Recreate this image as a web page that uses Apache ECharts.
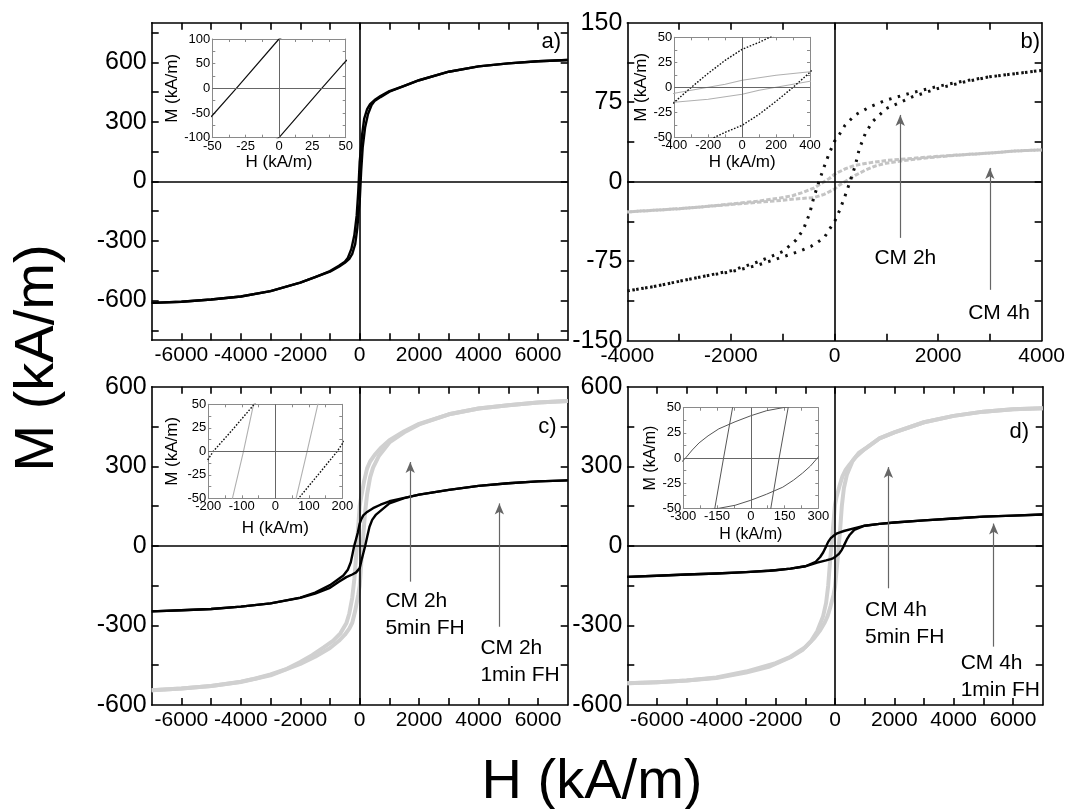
<!DOCTYPE html>
<html>
<head>
<meta charset="utf-8">
<title>M(H) loops</title>
<script src="https://cdn.jsdelivr.net/npm/echarts@6/dist/echarts.min.js"></script>
<style>
html, body { margin: 0; padding: 0; background: #fff; }
#chart { width: 1068px; height: 809px; }
</style>
</head>
<body>
<div id="chart"></div>
<script>
// ---- data: [H (kA/m), M (kA/m)] ----
// a) single sample
var aDesc = [[7000,612],[6000,606],[5000,595],[4000,580],[3000,553],[2000,510],[1500,482],[1000,455],[700,430],[500,410],[350,390],[250,365],[150,315],[80,235],[40,160],[0,100],[-32,0],[-50,-55],[-100,-170],[-180,-270],[-280,-340],[-400,-385],[-500,-405],[-700,-425],[-1000,-452],[-1500,-482],[-2000,-510],[-3000,-553],[-4000,-580],[-5000,-595],[-6000,-606],[-7000,-612]];
var aAsc = [[-7000,-612],[-6000,-606],[-5000,-595],[-4000,-580],[-3000,-553],[-2000,-510],[-1500,-482],[-1000,-455],[-700,-430],[-500,-410],[-350,-390],[-250,-365],[-150,-315],[-80,-235],[-40,-160],[0,-100],[32,0],[50,55],[100,170],[180,270],[280,340],[400,385],[500,405],[700,425],[1000,452],[1500,482],[2000,510],[3000,553],[4000,580],[5000,595],[6000,606],[7000,612]];

// b) CM 2h (black) and CM 4h (grey)
var b2hDesc = [[4000,105],[3500,102],[3000,99],[2500,95],[2000,90],[1500,84],[1000,77],[700,71],[400,63],[200,53],[100,45],[0,38],[-100,27],[-200,14],[-300,0],[-400,-15],[-480,-30],[-600,-45],[-740,-55],[-1000,-66],[-1500,-76],[-2000,-84],[-2500,-89],[-3000,-94],[-3500,-99],[-4000,-103]];
var b2hAsc = [[-4000,-103],[-3500,-99],[-3000,-94],[-2500,-89],[-2000,-85],[-1500,-79],[-1000,-71],[-700,-66],[-450,-61],[-200,-53],[-100,-45],[0,-38],[100,-27],[200,-14],[300,0],[400,15],[480,31],[600,46],[740,57],[1000,69],[1500,80],[2000,88],[2500,94],[3000,99],[3500,102],[4000,105]];
var b4hDesc = [[4000,30],[3500,29],[3000,27],[2500,25.5],[2000,24],[1500,22],[1000,20],[700,18],[400,15.5],[200,12],[0,7],[-100,3],[-200,0],[-300,-3],[-400,-6],[-600,-10],[-800,-13],[-1000,-15],[-1500,-18.5],[-2000,-21],[-2500,-23.5],[-3000,-25.5],[-3500,-27],[-4000,-28.5]];
var b4hAsc = [[-4000,-28.5],[-3500,-27],[-3000,-25.5],[-2500,-23.5],[-2000,-21.5],[-1500,-19.5],[-1000,-17.5],[-700,-16],[-400,-15],[-200,-12],[0,-7],[100,-3],[200,0],[300,3],[400,6],[600,11],[800,15],[1000,17.5],[1500,21],[2000,23.5],[2500,25.5],[3000,27],[3500,29],[4000,30]];

// c) CM 2h, 5min FH (grey) and 1min FH (black)
var c5Desc = [[7000,546],[6000,540],[5000,530],[4000,518],[3000,496],[2000,460],[1500,432],[1000,398],[700,368],[500,342],[350,318],[250,292],[150,245],[50,185],[0,150],[-65,50],[-95,0],[-128,-50],[-180,-125],[-250,-195],[-350,-255],[-450,-292],[-650,-330],[-900,-358],[-1200,-382],[-1600,-412],[-2000,-438],[-2500,-466],[-3000,-485],[-3500,-500],[-4000,-512],[-5000,-528],[-6000,-538],[-7000,-544]];
var c5Asc = [[-7000,-544],[-6000,-538],[-5000,-528],[-4000,-513],[-3000,-488],[-2000,-445],[-1500,-418],[-1000,-385],[-700,-358],[-500,-335],[-350,-312],[-250,-290],[-150,-245],[-50,-185],[0,-150],[62,-50],[95,0],[127,50],[180,125],[250,195],[350,258],[450,295],[650,340],[1000,390],[1500,428],[2000,458],[3000,496],[4000,518],[5000,530],[6000,540],[7000,546]];
var c1Desc = [[7000,247],[6000,243],[5000,236],[4000,226],[3000,211],[2000,193],[1500,181],[1000,168],[700,155],[450,142],[250,128],[120,115],[50,100],[0,84],[-63,50],[-130,22],[-185,0],[-240,-30],[-300,-62],[-400,-90],[-550,-112],[-700,-124],[-1000,-148],[-1500,-176],[-2000,-195],[-3000,-217],[-4000,-229],[-5000,-238],[-6000,-243],[-7000,-247]];
var c1Asc = [[-7000,-247],[-6000,-243],[-5000,-238],[-4000,-229],[-3000,-217],[-2000,-196],[-1500,-180],[-1000,-158],[-700,-135],[-450,-118],[-250,-108],[-120,-100],[0,-84],[72,-49],[130,-24],[185,0],[200,8],[260,38],[330,72],[420,98],[550,118],[700,132],[1000,160],[1500,180],[2000,193],[3000,211],[4000,226],[5000,236],[6000,243],[7000,247]];

// d) CM 4h, 5min FH (grey) and 1min FH (black)
var d5Desc = [[7000,519],[6000,515],[5000,506],[4000,490],[3000,466],[2000,428],[1500,405],[1000,365],[700,335],[500,308],[350,285],[250,262],[150,225],[50,183],[0,155],[-81,50],[-121,0],[-160,-50],[-230,-150],[-300,-215],[-400,-265],[-600,-322],[-800,-358],[-1100,-393],[-1500,-420],[-2200,-455],[-3000,-478],[-4000,-498],[-5000,-508],[-6000,-514],[-7000,-518]];
var d5Asc = [[-7000,-518],[-6000,-514],[-5000,-508],[-4000,-496],[-3000,-474],[-2000,-442],[-1500,-418],[-1000,-382],[-700,-348],[-500,-318],[-350,-290],[-250,-265],[-150,-228],[-50,-185],[0,-155],[89,-50],[126,0],[166,50],[230,150],[300,218],[400,268],[600,322],[800,350],[1000,365],[1500,405],[2000,428],[3000,466],[4000,490],[5000,506],[6000,515],[7000,519]];
var d1Desc = [[7000,118],[6000,114],[5000,110],[4000,103],[3000,96],[2000,88],[1500,83],[1000,76],[600,65],[300,56],[142,50],[70,47],[0,42],[-70,36],[-142,29],[-190,22],[-230,15],[-260,8],[-290,0],[-400,-25],[-500,-42],[-650,-60],[-1000,-77],[-1500,-86],[-2200,-94],[-3000,-99],[-4000,-104],[-5000,-108],[-6000,-113],[-7000,-117]];
var d1Asc = [[-7000,-117],[-6000,-113],[-5000,-108],[-4000,-104],[-3000,-99],[-2000,-92],[-1500,-86],[-1000,-77],[-600,-63],[-300,-55],[-142,-50],[-70,-47],[0,-42],[70,-36],[142,-29],[190,-22],[230,-15],[265,-8],[296,0],[400,24],[500,42],[650,60],[1000,76],[1500,83],[2000,88],[3000,96],[4000,103],[5000,110],[6000,114],[7000,118]];

// ---- tick labels / tick positions ----
var xLabWide = [-6000,-4000,-2000,0,2000,4000,6000];
var xTickWide = [-6000,-5000,-4000,-3000,-2000,-1000,0,1000,2000,3000,4000,5000,6000];
var yLabA = [-600,-300,0,300,600];
var yTickA = [-750,-600,-450,-300,-150,0,150,300,450,600,750];
var xLabB = [-4000,-2000,0,2000,4000];
var xTickB = [-3000,-2000,-1000,0,1000,2000,3000];
var yLabB = [-150,-75,0,75,150];
var yTickB = [-112.5,-75,-37.5,0,37.5,75,112.5];
var yLabCD = [-600,-300,0,300,600];
var yTickCD = [-450,-300,-150,0,150,300,450];

var inXLabA = [-50,-25,0,25,50], inXTickA = [-37.5,-25,-12.5,0,12.5,25,37.5];
var inYLabA = [-100,-50,0,50,100], inYTickA = [-75,-50,-25,0,25,50,75];
var inXLabB = [-400,-200,0,200,400], inXTickB = [-300,-200,-100,0,100,200,300];
var inXLabC = [-200,-100,0,100,200], inXTickC = [-150,-100,-50,0,50,100,150];
var inXLabD = [-300,-150,0,150,300], inXTickD = [-225,-150,-75,0,75,150,225];
var inYLab50 = [-50,-25,0,25,50], inYTick50 = [-37.5,-25,-12.5,0,12.5,25,37.5];

// annotations: arrows [H, from M, to M] and texts [H, M] (top-left anchor)
var arrowsB = [[1270,-53,63],[3000,-102,13]];
var arrowsC = [[1700,-135,316],[4700,-305,160]];
var arrowsD = [[1800,-160,297],[5350,-380,84]];
var notes = [
    {grid: 2, at: [771,-59], text: 'CM 2h'},
    {grid: 2, at: [2582,-111], text: 'CM 4h'},
    {grid: 4, at: [865,-159], text: 'CM 2h\n5min FH'},
    {grid: 4, at: [4063,-334], text: 'CM 2h\n1min FH'},
    {grid: 6, at: [1011,-191], text: 'CM 4h\n5min FH'},
    {grid: 6, at: [4236,-391], text: 'CM 4h\n1min FH'}
];

var FONT = 'Liberation Sans, Arial, sans-serif';
var chart = echarts.init(document.getElementById('chart'));
var grids = [], xAxes = [], yAxes = [], series = [];

function fmt(v) { return String(v); }

function addGrid(box, xr, yr, xl, xt, yl, yt, o) {
    var g = grids.length;
    grids.push({left: box[0], top: box[1], width: box[2], height: box[3], show: false});
    ['bottom', 'top'].forEach(function (pos, k) {
        xAxes.push({
            gridIndex: g, type: 'value', position: pos, min: xr[0], max: xr[1],
            name: k === 0 ? (o.xName || '') : '', nameLocation: 'middle', nameGap: o.xGap || 0,
            nameTextStyle: {fontSize: o.nameSize, color: '#000', fontFamily: FONT},
            axisLine: {onZero: false, lineStyle: {color: o.frame, width: o.frameW}},
            axisTick: {inside: true, length: o.tick, customValues: xt, lineStyle: {color: o.frame, width: o.frameW}},
            axisLabel: {show: k === 0, customValues: xl, fontSize: o.xFont, color: '#000', margin: o.margin, fontFamily: FONT, formatter: fmt},
            splitLine: {show: false}
        });
    });
    ['left', 'right'].forEach(function (pos, k) {
        yAxes.push({
            gridIndex: g, type: 'value', position: pos, min: yr[0], max: yr[1],
            name: k === 0 ? (o.yName || '') : '', nameLocation: 'middle', nameGap: o.yGap || 0, nameRotate: 90,
            nameTextStyle: {fontSize: o.nameSize, color: '#000', fontFamily: FONT},
            axisLine: {onZero: false, lineStyle: {color: o.frame, width: o.frameW}},
            axisTick: {inside: true, length: o.tick, customValues: yt, lineStyle: {color: o.frame, width: o.frameW}},
            axisLabel: {show: k === 0, customValues: yl, fontSize: o.yFont, color: '#000', margin: o.margin, fontFamily: FONT, formatter: fmt},
            splitLine: {show: false}
        });
    });
    return g;
}

function addLine(g, name, data, style, markLine) {
    var s = {
        name: name, type: 'line', xAxisIndex: 2 * g, yAxisIndex: 2 * g, data: data,
        showSymbol: false, smooth: false, clip: true,
        lineStyle: style, silent: true, animation: false
    };
    if (markLine) s.markLine = markLine;
    series.push(s);
}

function zeroLines(color, width) {
    return {silent: true, symbol: 'none', animation: false, label: {show: false},
        lineStyle: {color: color, width: width, type: 'solid'},
        data: [{xAxis: 0}, {yAxis: 0}]};
}

function arrowLines(list) {
    return {silent: true, symbol: 'none', symbolSize: [7, 11], animation: false, label: {show: false},
        lineStyle: {color: '#666', width: 1.2, type: 'solid'},
        itemStyle: {color: '#111'},
        data: list.map(function (a) {
            return [{coord: [a[0], a[1]], symbol: 'none'}, {coord: [a[0], a[2]], symbol: 'arrow'}];
        })};
}

var mainOpt = {frame: '#000', frameW: 1.6, tick: 7, xFont: 21, yFont: 25, margin: 5};
function insetOpt(xGap, yGap, size) {
    return {frame: '#8a8a8a', frameW: 1, tick: 3, xFont: 13, yFont: 13, margin: 2,
        xName: 'H (kA/m)', yName: 'M (kA/m)', xGap: xGap, yGap: yGap, nameSize: size};
}

var black = {color: '#000', width: 2.4, join: 'round'};
var grey = {color: '#d0d0d0', width: 4, join: 'round'};
var blackDots = {color: '#111', width: 3, type: [2.5, 6.5]};
var greyRings = {color: '#c4c4c4', width: 3, type: [4.5, 2]};
var inBlack = {color: '#111', width: 1.2};
var inBlackDots = {color: '#111', width: 1.4, type: [1.6, 1.6]};
var inGrey = {color: '#b0b0b0', width: 1.1};
var inDark = {color: '#555', width: 1};

// a)
var gA = addGrid([151.7, 22.7, 416, 317.5], [-7000, 7000], [-800, 800], xLabWide, xTickWide, yLabA, yTickA, mainOpt);
addLine(gA, 'a desc', aDesc, black, zeroLines('#000', 1.6));
addLine(gA, 'a asc', aAsc, black);
var gAi = addGrid([212.3, 39, 133.4, 98.7], [-50, 50], [-100, 100], inXLabA, inXTickA, inYLabA, inYTickA, insetOpt(13, 30, 17));
addLine(gAi, 'a desc', aDesc, inBlack, zeroLines('#666', 1));
addLine(gAi, 'a asc', aAsc, inBlack);

// b)
var gB = addGrid([627.3, 22.7, 415.4, 318], [-4000, 4000], [-150, 150], xLabB, xTickB, yLabB, yTickB, mainOpt);
addLine(gB, 'CM 4h desc', b4hDesc, greyRings, zeroLines('#000', 1.6));
addLine(gB, 'CM 4h asc', b4hAsc, greyRings, arrowLines(arrowsB));
addLine(gB, 'CM 2h desc', b2hDesc, blackDots);
addLine(gB, 'CM 2h asc', b2hAsc, blackDots);
var gBi = addGrid([674.3, 37.3, 135.7, 100], [-400, 400], [-50, 50], inXLabB, inXTickB, inYLab50, inYTick50, insetOpt(17, 24, 17));
addLine(gBi, 'CM 4h desc', b4hDesc, inGrey, zeroLines('#666', 1));
addLine(gBi, 'CM 4h asc', b4hAsc, inGrey);
addLine(gBi, 'CM 2h desc', b2hDesc, inBlackDots);
addLine(gBi, 'CM 2h asc', b2hAsc, inBlackDots);

// c)
var gC = addGrid([151.7, 386.7, 416, 318.3], [-7000, 7000], [-600, 600], xLabWide, xTickWide, yLabCD, yTickCD, mainOpt);
addLine(gC, '5min FH desc', c5Desc, grey, zeroLines('#000', 1.6));
addLine(gC, '5min FH asc', c5Asc, grey, arrowLines(arrowsC));
addLine(gC, '1min FH desc', c1Desc, black);
addLine(gC, '1min FH asc', c1Asc, black);
var gCi = addGrid([208.3, 404.3, 134, 94], [-200, 200], [-50, 50], inXLabC, inXTickC, inYLab50, inYTick50, insetOpt(22, 27, 17));
addLine(gCi, '5min FH desc', c5Desc, inGrey, zeroLines('#666', 1));
addLine(gCi, '5min FH asc', c5Asc, inGrey);
addLine(gCi, '1min FH desc', c1Desc, inBlackDots);
addLine(gCi, '1min FH asc', c1Asc, inBlackDots);

// d)
var gD = addGrid([627.3, 386.7, 415.4, 318.3], [-7000, 7000], [-600, 600], xLabWide, xTickWide, yLabCD, yTickCD, mainOpt);
addLine(gD, '5min FH desc', d5Desc, grey, zeroLines('#000', 1.6));
addLine(gD, '5min FH asc', d5Asc, grey, arrowLines(arrowsD));
addLine(gD, '1min FH desc', d1Desc, black);
addLine(gD, '1min FH asc', d1Asc, black);
var gDi = addGrid([683.3, 407.7, 135, 100.6], [-300, 300], [-50, 50], inXLabD, inXTickD, inYLab50, inYTick50, insetOpt(18, 22, 16));
addLine(gDi, '5min FH desc', d5Desc, inDark, zeroLines('#666', 1));
addLine(gDi, '5min FH asc', d5Asc, inDark);
addLine(gDi, '1min FH desc', d1Desc, inDark);
addLine(gDi, '1min FH asc', d1Asc, inDark);

var option = {
    backgroundColor: '#fff',
    animation: false,
    textStyle: {fontFamily: FONT},
    grid: grids,
    xAxis: xAxes,
    yAxis: yAxes,
    series: series
};
chart.setOption(option);

// text labels placed from data coordinates, plus panel letters and big titles
var graphics = notes.map(function (n) {
    var p = chart.convertToPixel({gridIndex: n.grid}, n.at);
    return {type: 'text', x: p[0], y: p[1], silent: true, z: 10,
        style: {text: n.text, fontSize: 21, fontFamily: FONT, fill: '#000', align: 'left', verticalAlign: 'top', lineHeight: 27}};
});
[['a)', 561, 41.7], ['b)', 1040, 41.7], ['c)', 556.7, 426.7], ['d)', 1029, 431.7]].forEach(function (t) {
    graphics.push({type: 'text', x: t[1], y: t[2], silent: true, z: 10,
        style: {text: t[0], fontSize: 22, fontFamily: FONT, fill: '#000', align: 'right', verticalAlign: 'middle'}});
});
graphics.push({type: 'text', x: 592, y: 783, silent: true,
    style: {text: 'H (kA/m)', fontSize: 56, fontFamily: FONT, fill: '#000', align: 'center', verticalAlign: 'middle'}});
graphics.push({type: 'text', x: 38, y: 358, rotation: Math.PI / 2, silent: true,
    style: {text: 'M (kA/m)', fontSize: 56, fontFamily: FONT, fill: '#000', align: 'center', verticalAlign: 'middle'}});
chart.setOption({graphic: graphics});

window.addEventListener('resize', function () {
    chart.resize();
});
</script>
</body>
</html>
